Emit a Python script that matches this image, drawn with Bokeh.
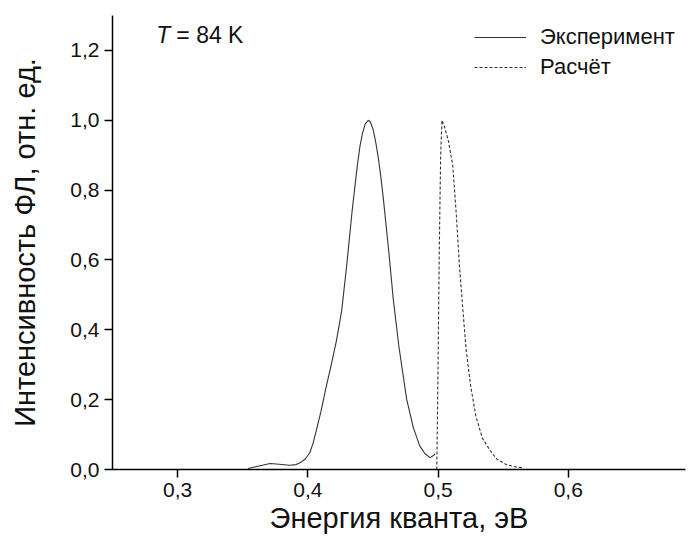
from bokeh.plotting import figure
from bokeh.models import Range1d, FixedTicker, CustomJSTickFormatter, Legend, LegendItem, Label
from bokeh.embed import file_html
from bokeh.resources import INLINE

# Experimental PL spectrum (T = 84 K)
exp_energy = [0.354, 0.360, 0.365, 0.371, 0.378, 0.386, 0.391, 0.394, 0.398, 0.4015,
              0.404, 0.4067, 0.410, 0.414, 0.418, 0.422, 0.426, 0.430, 0.434, 0.438,
              0.440, 0.442, 0.444, 0.4464, 0.448, 0.450, 0.452, 0.454, 0.456, 0.458,
              0.462, 0.4656, 0.470, 0.4759, 0.481, 0.486, 0.490, 0.4938, 0.4965, 0.4977]
exp_intensity = [0.003, 0.008, 0.012, 0.017, 0.015, 0.012, 0.014, 0.019, 0.030, 0.048,
                 0.075, 0.115, 0.165, 0.235, 0.300, 0.370, 0.455, 0.590, 0.740, 0.870,
                 0.925, 0.963, 0.989, 1.000, 0.995, 0.975, 0.940, 0.895, 0.840, 0.775,
                 0.630, 0.488, 0.350, 0.201, 0.120, 0.067, 0.045, 0.034, 0.040, 0.045]

# Calculated spectrum
calc_energy = [0.4990, 0.5000, 0.5010, 0.5020, 0.5030, 0.5050, 0.5080, 0.5113, 0.5140, 0.5164,
               0.5190, 0.5215, 0.5250, 0.5290, 0.5340, 0.5395, 0.5450, 0.5523, 0.5600, 0.5650]
calc_intensity = [0.000, 0.300, 0.650, 0.900, 1.000, 0.980, 0.940, 0.870, 0.730, 0.584,
                  0.460, 0.345, 0.240, 0.153, 0.090, 0.057, 0.030, 0.014, 0.007, 0.005]

x_ticks = [0.3, 0.4, 0.5, 0.6]
y_ticks = [0.0, 0.2, 0.4, 0.6, 0.8, 1.0, 1.2]

FONT = "Liberation Sans"

p = figure(width=700, height=542, output_backend="svg", toolbar_location=None,
           x_range=Range1d(0.25, 0.69), y_range=Range1d(0.0, 1.3),
           min_border_left=112, min_border_right=15, min_border_top=15, min_border_bottom=73)
p.outline_line_color = None
p.grid.visible = False
p.background_fill_color = "white"

r_exp = p.line(exp_energy, exp_intensity, line_color="#333333", line_width=1.1)
r_calc = p.line(calc_energy, calc_intensity, line_color="#333333", line_width=1.1, line_dash="3 2")

fmt = CustomJSTickFormatter(code="return tick.toFixed(1).replace('.', ',');")
for ax, ticks in ((p.xaxis[0], x_ticks), (p.yaxis[0], y_ticks)):
    ax.ticker = FixedTicker(ticks=ticks)
    ax.formatter = fmt
    ax.minor_tick_line_color = None
    ax.major_tick_out = 8
    ax.major_tick_in = 0
    ax.major_tick_line_width = 1.5
    ax.axis_line_width = 1.5
    ax.axis_line_color = "black"
    ax.major_tick_line_color = "black"
    ax.major_label_text_font = FONT
    ax.major_label_text_font_size = "21px"
    ax.major_label_text_color = "#111111"
    ax.axis_label_text_font = FONT
    ax.axis_label_text_font_size = "29px"
    ax.axis_label_text_font_style = "normal"
    ax.axis_label_text_color = "#111111"
    ax.major_label_standoff = 5

p.xaxis.axis_label = "Энергия кванта, эВ"
p.yaxis.axis_label = "Интенсивность ФЛ, отн. ед."
p.xaxis.axis_label_standoff = 2
p.yaxis.axis_label_standoff = 26

legend = Legend(items=[LegendItem(label="Эксперимент", renderers=[r_exp]),
                       LegendItem(label="Расчёт", renderers=[r_calc])],
                location=(362, 387), orientation="vertical",
                glyph_width=52, glyph_height=30, label_height=30, spacing=0,
                padding=0, margin=0, label_standoff=14,
                label_text_font=FONT, label_text_font_size="22px",
                label_text_color="#111111",
                border_line_color=None, background_fill_alpha=0)
p.add_layout(legend)

p.add_layout(Label(x=0.2836, y=1.243, text="T", text_font=FONT, text_font_size="23px",
                   text_font_style="italic", text_baseline="middle", text_color="#111111"))
p.add_layout(Label(x=0.2990, y=1.243, text="= 84 K", text_font=FONT, text_font_size="23px",
                   text_baseline="middle", text_color="#111111"))

open("out.html", "w").write(file_html(p, INLINE))
